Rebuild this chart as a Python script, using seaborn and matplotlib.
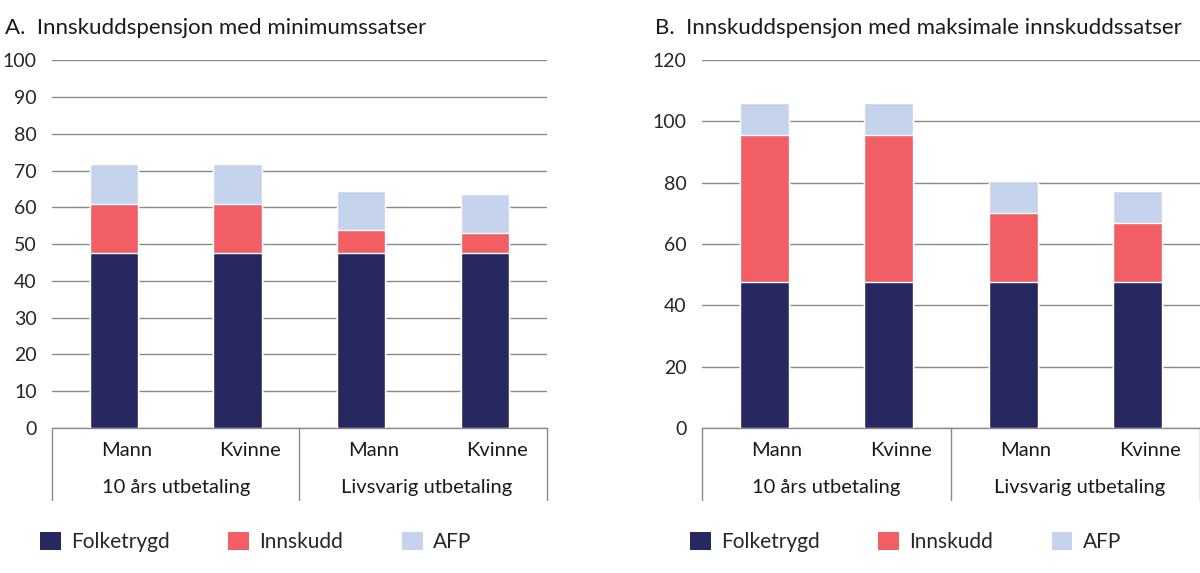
import numpy as np
import pandas as pd
import matplotlib
matplotlib.use("Agg")
import matplotlib.pyplot as plt
from matplotlib.patches import Patch
import seaborn as sns

# Data
kjonn = ["Mann", "Kvinne", "Mann", "Kvinne"]
grupper = ["10 års utbetaling", "Livsvarig utbetaling"]
serier = ["Folketrygd", "Innskudd", "AFP"]

folketrygd_a = [47.6, 47.6, 47.6, 47.6]
innskudd_a = [13.4, 13.4, 6.1, 5.4]
afp_a = [10.7, 10.7, 10.7, 10.7]

folketrygd_b = [47.6, 47.6, 47.6, 47.6]
innskudd_b = [48.0, 48.0, 22.5, 19.2]
afp_b = [10.3, 10.3, 10.4, 10.4]

titler = ["A.  Innskuddspensjon med minimumssatser",
          "B.  Innskuddspensjon med maksimale innskuddssatser"]

farger = ["#27285f", "#f15f64", "#c5d3ec"]
GRID = "#8a8a8a"

sns.set_theme(style="white")
plt.rcParams['font.family'] = ['Lato', 'DejaVu Sans']


def stacked(ax, folk, innsk, afp, ymax, step):
    pos = ["p%d" % i for i in range(len(kjonn))]
    df = pd.DataFrame({"pos": pos,
                       "Folketrygd": folk,
                       "Innskudd": np.add(folk, innsk),
                       "AFP": np.add(np.add(folk, innsk), afp)})
    # draw tallest first, then overlay the lower parts
    for col, c in zip(["AFP", "Innskudd", "Folketrygd"], farger[::-1]):
        sns.barplot(data=df, x="pos", y=col, color=c, width=0.39,
                    saturation=1, ax=ax, zorder=3)
    ax.set_xlim(-0.5, len(pos) - 0.5)
    ax.set_ylim(0, ymax)
    ax.set_yticks(np.arange(0, ymax + 1, step))
    ax.tick_params(axis="y", labelsize=14, pad=11, length=0)
    ax.set_xticks([])
    ax.set_xlabel("")
    ax.set_ylabel("")
    ax.yaxis.grid(True, color=GRID, lw=1)
    ax.set_axisbelow(True)
    for s in ["top", "right", "left"]:
        ax.spines[s].set_visible(False)
    ax.spines["bottom"].set_color(GRID)
    ax.spines["bottom"].set_linewidth(1)

    trans = ax.get_xaxis_transform()
    for i, k in enumerate(kjonn):
        ax.text(i + 0.1, -0.06, k, transform=trans, ha="center", va="center",
                fontsize=14.5, color="#1a1a1a")
    for j, g in enumerate(grupper):
        ax.text(j * 2 + 0.5 + 0.03 * j, -0.163, g, transform=trans, ha="center",
                va="center", fontsize=14.5, color="#1a1a1a")
    for xv in [-0.5, 1.5, 3.5]:
        ax.plot([xv, xv], [0, -0.196], transform=trans, color=GRID,
                lw=1, clip_on=False)

    handles = [Patch(facecolor=c, edgecolor="none") for c in farger]
    ax.legend(handles, serier, loc="center left", bbox_to_anchor=(-0.062, -0.31),
              ncol=3, frameon=False, fontsize=15, handlelength=1.0,
              handleheight=1.0, handletextpad=0.5, columnspacing=2.8)


fig = plt.figure(figsize=(12, 5.73), dpi=100)
ax_a = fig.add_axes([0.0433, 0.253, 0.4125, 0.642])
ax_b = fig.add_axes([0.585, 0.253, 0.415, 0.642])

stacked(ax_a, folketrygd_a, innskudd_a, afp_a, 100, 10)
stacked(ax_b, folketrygd_b, innskudd_b, afp_b, 120, 20)

fig.text(5 / 1200, 1 - 28 / 573, titler[0], fontsize=16, va="center", color="#1a1a1a")
fig.text(655 / 1200, 1 - 28 / 573, titler[1], fontsize=16, va="center", color="#1a1a1a")

fig.savefig("out.png", dpi=100)
